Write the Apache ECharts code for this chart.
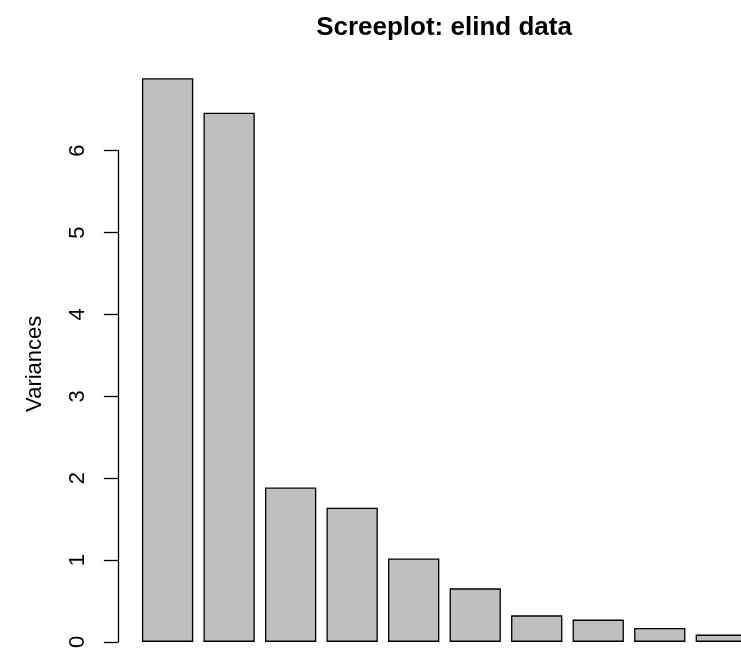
<!DOCTYPE html>
<html>
<head>
<meta charset="utf-8">
<script src="https://cdn.jsdelivr.net/npm/echarts@6/dist/echarts.min.js"></script>
<style>
html,body{margin:0;padding:0;background:#fff;}
#chart{width:741px;height:651px;}
</style>
</head>
<body>
<div id="chart"></div>
<script>
const chartTitle = 'Screeplot: elind data';
const yAxisName = 'Variances';
const components = [1, 2, 3, 4, 5, 6, 7, 8, 9, 10];
const variances = [6.885, 6.465, 1.885, 1.638, 1.02, 0.654, 0.324, 0.272, 0.171, 0.089];
const yTicks = [0, 1, 2, 3, 4, 5, 6];

const seriesData = components.map((c, i) => [c, variances[i]]);

const chart = echarts.init(document.getElementById('chart'), null, {renderer: 'canvas'});
const option = {
  animation: false,
  backgroundColor: '#ffffff',
  title: {
    text: chartTitle,
    left: 444,
    top: 15,
    padding: 0,
    textAlign: 'center',
    textStyle: {
      fontFamily: 'Liberation Sans, Arial, sans-serif',
      fontWeight: 'bold',
      fontSize: 26,
      color: '#000'
    }
  },
  grid: {
    left: 136.85,
    right: 0,
    top: 150.7,
    bottom: 7.7,
    containLabel: false
  },
  xAxis: {
    type: 'value',
    min: 0.5,
    max: 10.3205,
    show: false
  },
  yAxis: {
    type: 'value',
    min: yTicks[0],
    max: yTicks[yTicks.length - 1],
    interval: 1,
    offset: 19,
    splitLine: {show: false},
    axisLine: {show: true, lineStyle: {color: '#000', width: 1.3}},
    axisTick: {show: true, length: 14, lineStyle: {color: '#000', width: 1.3}},
    axisLabel: {
      rotate: 90,
      margin: 29,
      fontFamily: 'Liberation Sans, Arial, sans-serif',
      fontSize: 22,
      color: '#000'
    },
    name: yAxisName,
    nameLocation: 'middle',
    nameRotate: 90,
    nameGap: 72,
    nameTextStyle: {
      fontFamily: 'Liberation Sans, Arial, sans-serif',
      fontSize: 22,
      color: '#000',
      padding: [0, 0, 0, 65]
    }
  },
  series: [{
    type: 'bar',
    data: seriesData,
    clip: false,
    barWidth: 51.3,
    itemStyle: {
      color: '#bebebe',
      borderColor: '#000',
      borderWidth: 1.3
    }
  }]
};
chart.setOption(option);
</script>
</body>
</html>
